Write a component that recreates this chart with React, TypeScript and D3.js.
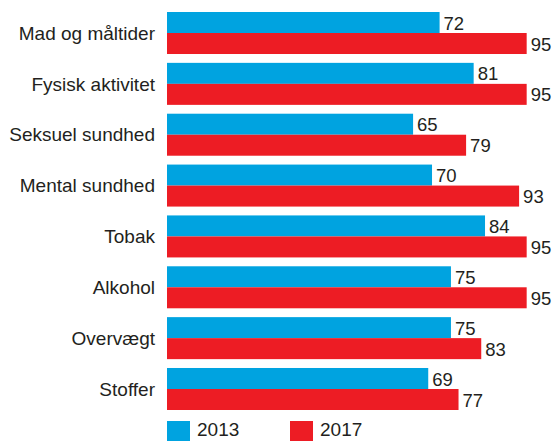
import React from "react";
import * as d3 from "d3";

const categories = [
  "Mad og måltider",
  "Fysisk aktivitet",
  "Seksuel sundhed",
  "Mental sundhed",
  "Tobak",
  "Alkohol",
  "Overvægt",
  "Stoffer",
];
const seriesNames = ["2013", "2017"];
const values2013 = [72, 81, 65, 70, 84, 75, 75, 69];
const values2017 = [95, 95, 79, 93, 95, 95, 83, 77];
const colors = ["#00A3E0", "#ED1C24"];

const W = 555;
const H = 441;
const FONT = "'Liberation Sans', Arial, Helvetica, sans-serif";
const TEXT = "#231F20";

export default function App() {
  const x = d3.scaleLinear().domain([0, 100]).range([167, 167 + 378.6]);
  const y = d3.scaleBand<string>().domain(categories).range([12, 410]).paddingInner(0.174).paddingOuter(0);
  const ys = d3.scaleBand<string>().domain(seriesNames).range([0, y.bandwidth()]).padding(0);
  const series = [values2013, values2017];

  return (
    <svg width={W} height={H} style={{ position: "absolute", left: 0, top: 0, background: "#fff" }} fontFamily={FONT}>
      {categories.map((c, i) => {
        const y0 = y(c)!;
        return (
          <g key={c}>
            <text
              x={155}
              y={y0 + y.bandwidth() / 2}
              dy="0.35em"
              textAnchor="end"
              fontSize={19}
              fill={TEXT}
            >
              {c}
            </text>
            {seriesNames.map((s, j) => {
              const v = series[j][i];
              const by = y0 + ys(s)!;
              return (
                <g key={s}>
                  <rect x={x(0)} y={by} width={x(v) - x(0)} height={ys.bandwidth()} fill={colors[j]} />
                  <text x={x(v) + 4} y={by + ys.bandwidth() / 2} dy="0.38em" fontSize={18.5} fill={TEXT}>
                    {v}
                  </text>
                </g>
              );
            })}
          </g>
        );
      })}
      {seriesNames.map((s, j) => {
        const lx = 167 + j * 123;
        return (
          <g key={s}>
            <rect x={lx} y={421} width={23} height={20} fill={colors[j]} />
            <text x={lx + 30} y={436} fontSize={19} fill={TEXT}>
              {s}
            </text>
          </g>
        );
      })}
    </svg>
  );
}
